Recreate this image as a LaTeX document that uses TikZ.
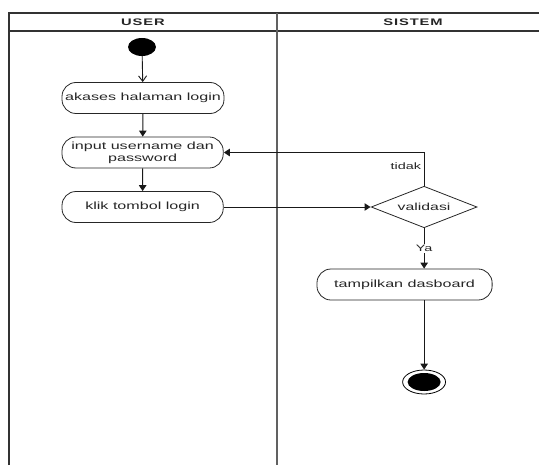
\documentclass[tikz,border=0pt]{standalone}
\usepackage{fontspec}
\setmainfont{Liberation Sans}
\usetikzlibrary{arrows.meta,shapes.geometric}
\begin{document}
\begin{tikzpicture}[x=1pt,y=-1pt,xscale=1.55,transform shape,
  laneouter/.style={line width=1.3pt,draw=black!80},
  lanediv/.style={line width=1.3pt,draw=black!62},
  act/.style={draw=black!85,line width=0.8pt,rounded corners=14pt,minimum height=31pt,
    align=center,font=\fontsize{10.4}{12}\selectfont,inner xsep=1pt,inner ysep=0pt,text=black!85},
  head/.style={font=\fontsize{9.5}{11}\selectfont\bfseries\addfontfeature{LetterSpace=6},text=black!85},
  lbl/.style={font=\fontsize{9.3}{11}\selectfont,text=black!85,inner sep=1.5pt},
  flow/.style={draw=black!90,line width=1pt,-{Triangle[length=6pt,width=7.5pt]}},
  openflow/.style={draw=black!90,line width=0.9pt,-{Straight Barb[length=5.5pt,width=8pt]}}]
\useasboundingbox (0,0) rectangle (347.74,465);
% swimlanes
\draw[laneouter] (5.81,465) -- (5.81,13) -- (347.74,13);
\draw[laneouter] (5.81,31) -- (347.74,31);
\draw[lanediv] (178.71,13) -- (178.71,465);
\node[head] (huser) at (92.26,22) {USER};
\node[head] (hsis) at (266.45,22) {SISTEM};
% nodes
\node[circle,fill=black,minimum size=18pt,inner sep=0pt] (s) at (91.6,47) {};
\node[act,minimum width=104.5pt] (a) at (92.26,98) {akases halaman login};
\node[act,minimum width=104pt] (in) at (92,152.5) {input username dan\\password};
\node[act,minimum width=104pt] (k) at (92,207) {klik tombol login};
\node[diamond,draw=black!85,line width=0.8pt,minimum width=68.4pt,minimum height=38pt,inner sep=0pt,
  font=\fontsize{10.2}{12}\selectfont,text=black!85] (v) at (273.6,207) {validasi};
\node[act,minimum width=113pt] (t) at (261,284.5) {tampilkan dasboard};
\node[ellipse,draw=black,line width=0.8pt,minimum width=27.7pt,minimum height=24pt,inner sep=0pt] (e) at (273.6,382) {};
\node[ellipse,fill=black,minimum width=21.3pt,minimum height=18pt,inner sep=0pt] (ein) at (e.center) {};
% connectors
\draw[openflow] (s) -- (a);
\draw[flow] (a) -- (in);
\draw[flow] (in) -- (k);
\draw[flow] (k) -- (v);
\draw[flow] (v.north) |- node[pos=0.29,left,lbl] (ltidak) {tidak} (in.east);
\draw[flow] (v.south) -- node[pos=0.5,fill=white,lbl] (lya) {Ya} (v.south |- t.north);
\draw[flow] (t.south -| e.north) -- (e.north);
\end{tikzpicture}
\end{document}
